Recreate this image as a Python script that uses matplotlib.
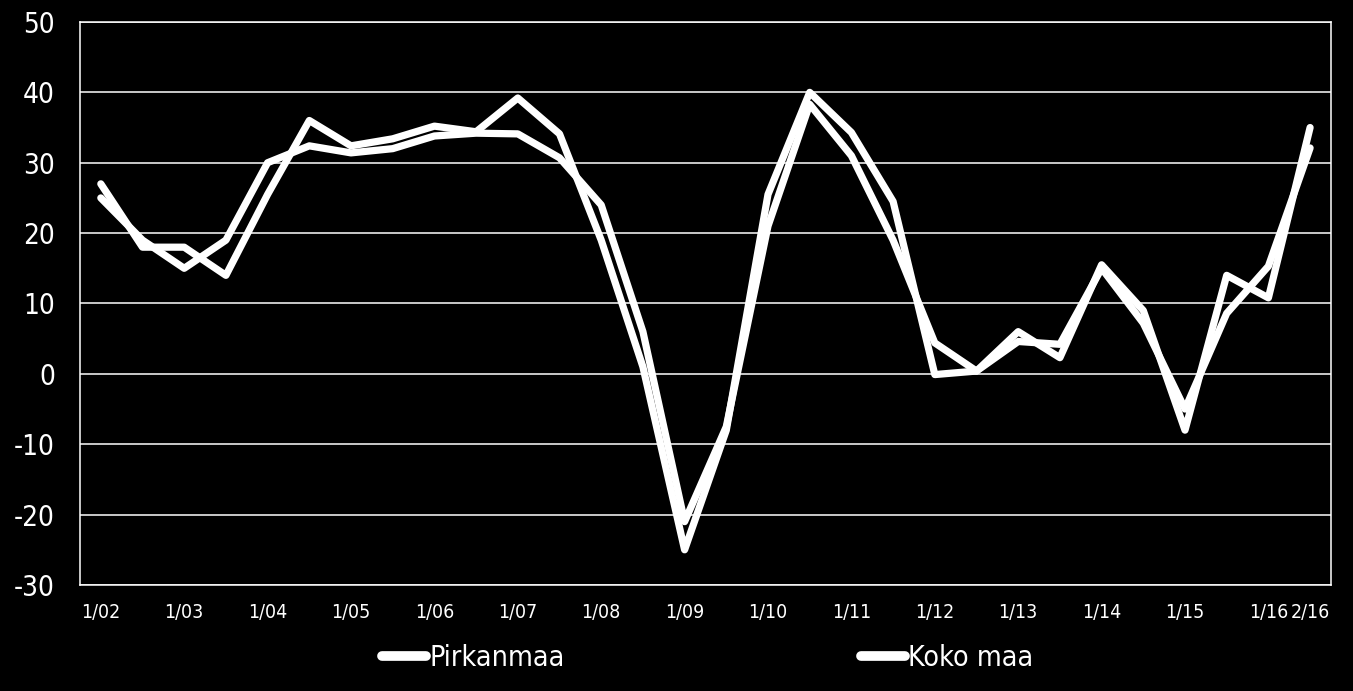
import matplotlib
matplotlib.use('Agg')
import matplotlib.pyplot as plt
import numpy as np

# Half-year periods 1/02 ... 2/16
periods = [f'{h}/{y:02d}' for y in range(2, 17) for h in (1, 2)]
tick_labels = [p if (p.startswith('1/') or p == '2/16') else '' for p in periods]

pirkanmaa = [27, 18, 18, 14, 25.5, 36, 32.4, 33.4, 35.2, 34.4,
             39.2, 34.1, 19, 1, -25, -8, 25.5, 40, 34.3, 24.5,
             -0.1, 0.4, 6, 2.3, 15.5, 9, -8, 14, 10.8, 35]
koko_maa = [25, 19, 15, 19, 30, 32.4, 31.4, 32, 33.8, 34.2,
            34.1, 30.7, 24, 6, -21, -7.5, 21, 38.3, 31, 19,
            4.4, 0.4, 4.6, 4.2, 15, 7.2, -5, 8.6, 15.3, 32.1]

plt.rcParams['font.family'] = ['DejaVu Sans']
plt.rcParams['font.stretch'] = 'condensed'
plt.rcParams['axes.unicode_minus'] = False

fig = plt.figure(figsize=(13.53, 6.91), dpi=100, facecolor='black')
ax = fig.add_axes([0.0591, 0.1534, 0.9246, 0.8148], facecolor='black')

x = np.arange(len(periods))
line_kw = dict(color='white', lw=5.2, solid_joinstyle='round', solid_capstyle='round')
ax.plot(x, pirkanmaa, label='Pirkanmaa', **line_kw)
ax.plot(x, koko_maa, label='Koko maa', **line_kw)

ax.set_xlim(-0.5, len(periods) - 0.5)
ax.set_ylim(-30, 50)
ax.set_yticks(range(-30, 51, 10))
ax.yaxis.grid(True, color='white', lw=1.1)
ax.set_axisbelow(True)

shown = [i for i, t in enumerate(tick_labels) if t]
ax.set_xticks(shown)
ax.set_xticklabels([tick_labels[i] for i in shown])

ax.tick_params(axis='y', length=0, pad=18, labelsize=20, colors='white')
ax.tick_params(axis='x', length=0, pad=13, labelsize=14, colors='white')
for s in ax.spines.values():
    s.set_color('white')
    s.set_linewidth(1.1)

leg = fig.legend(loc='center', bbox_to_anchor=(0.523, 0.048), ncol=2,
                 frameon=False, fontsize=20.5, handlelength=1.55,
                 handletextpad=0.1, columnspacing=10.4)
for t in leg.get_texts():
    t.set_color('white')
for h in leg.get_lines():
    h.set_linewidth(7)

fig.savefig('out.png', dpi=100, facecolor='black')
